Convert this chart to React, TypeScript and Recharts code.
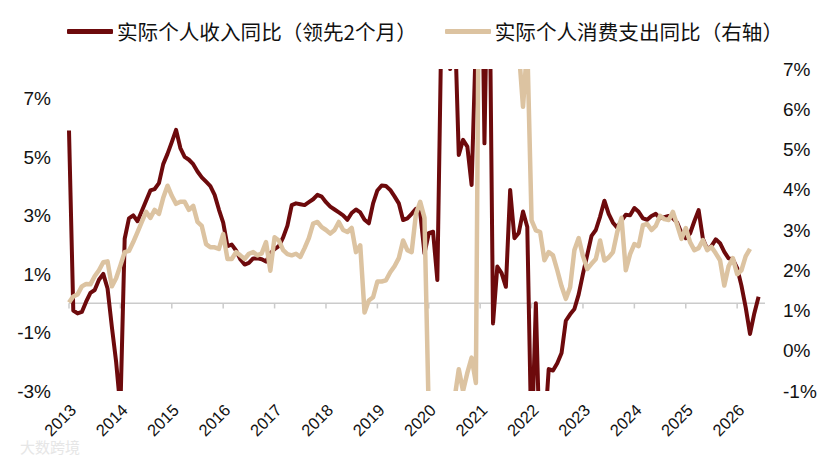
import React from 'react';
import { LineChart, Line, XAxis, YAxis, ReferenceLine } from 'recharts';

// monthly, Jan 2013 onwards
const yearLabels = ['2013', '2014', '2015', '2016', '2017', '2018', '2019', '2020', '2021', '2022', '2023', '2024', '2025', '2026'];

// 实际个人收入同比（领先2个月）, left axis
const income = [
  5.9, -0.25, -0.35, -0.3, 0.05, 0.35, 0.45, 0.8, 1.0, 0.5, -0.8, -2.0,
  -3.6, 2.2, 2.9, 3.0, 2.8, 3.15, 3.5, 3.85, 3.9, 4.1, 4.75, 5.1,
  5.5, 5.92, 5.3, 5.0, 4.9, 4.75, 4.5, 4.3, 4.15, 4.0, 3.7, 3.2,
  2.75, 1.95, 2.0, 1.8, 1.5, 1.32, 1.38, 1.53, 1.53, 1.5, 1.42, 1.7,
  1.85, 1.95, 2.25, 2.65, 3.35, 3.41, 3.38, 3.35, 3.45, 3.55, 3.7, 3.64,
  3.45, 3.3, 3.2, 3.1, 3.0, 2.85, 3.08, 3.2, 3.1, 2.85, 2.73, 3.41,
  3.85, 4.02, 4.0, 3.87, 3.65, 3.41, 2.84, 2.9, 3.05, 3.22, 3.1, 1.7,
  2.39, 2.44, 0.79, 10, 10, 8.0, 10, 5.06, 5.58, 5.35, 4.04, 9,
  16, 5.46, 14, -0.69, 1.25, 1.03, 0.56, 3.87, 2.22, 2.4, 3.13, 2.6,
  -5, 0.0, -5.5, -4.5, -2.25, -2.3, -2.05, -1.7, -0.6, -0.38, -0.2, 0.3,
  1.0, 1.65, 2.3, 2.5, 2.96, 3.5, 3.05, 2.75, 2.58, 2.82, 3.02, 3.0,
  3.25, 3.12, 2.9, 2.85, 2.98, 3.05, 2.9, 2.94, 2.98, 2.9, 2.75, 2.4,
  2.22, 2.38, 2.8, 3.18, 2.2, 1.85, 1.95, 2.18, 2.05, 1.75, 1.53, 1.5,
  1.2, 0.6, -0.15, -1.05, -0.35, 0.22,
];

// 实际个人消费支出同比（右轴）, right axis
const spending = [
  1.2, 1.35, 1.4, 1.6, 1.66, 1.65, 1.85, 2.0, 2.2, 2.22, 1.6, 1.8,
  2.12, 2.45, 2.48, 2.7, 2.95, 3.2, 3.45, 3.3, 3.5, 3.4, 3.8, 4.1,
  3.85, 3.65, 3.7, 3.7, 3.5, 3.6, 3.2, 3.1, 2.65, 2.57, 2.57, 2.53,
  2.9, 2.28, 2.28, 2.45, 2.37, 2.28, 2.41, 2.45, 2.37, 2.42, 2.7, 1.99,
  2.82, 2.74, 2.5, 2.4, 2.37, 2.41, 2.33, 2.55, 2.8, 3.16, 3.2, 3.07,
  3.0, 2.91, 3.0, 3.2, 3.0, 2.95, 3.05, 2.45, 2.62, 0.95, 1.25, 1.33,
  1.72, 1.72, 1.75, 1.95, 2.1, 2.3, 2.74, 2.5, 2.45, 3.4, 3.7, 3.3,
  -1.6, -16, -10, -7, -5, -3, -1.2, -0.46, -1.0, -0.55, -0.17, -0.8,
  14, 20, 14, 12, 11, 10, 9, 9, 8.5, 7.5, 6.06, 7.6,
  3.24, 2.99, 2.95, 2.25, 2.45, 2.37, 2.0, 1.6, 1.29, 1.58, 2.5, 2.8,
  2.35, 2.03, 2.16, 2.28, 2.74, 2.24, 2.32, 2.45, 2.95, 3.3, 2.0, 2.4,
  2.65, 2.6, 3.12, 3.15, 3.0, 3.1, 3.35, 3.27, 3.25, 3.45, 3.12, 2.78,
  3.05, 2.7, 2.5, 2.55, 2.75, 2.5, 2.58, 2.42, 2.25, 1.62, 2.1, 2.3,
  1.9, 2.0, 2.35, 2.53,
];

const leftTicks = [-3, -1, 1, 3, 5, 7];
const rightTicks = [-1, 0, 1, 2, 3, 4, 5, 6, 7];

const data = income.map((v, i) => ({
  m: i,
  income: v,
  spending: i < spending.length ? spending[i] : null,
}));

const yearTicks = yearLabels.map((_, i) => i * 12);

const DARK = '#6d0a0c';
const TAN = '#dcc3a1';
const TICK_FONT = '"Liberation Sans", Arial, sans-serif';

const LegendItem = ({ color, label }: { color: string; label: string }) => (
  <span style={{ display: 'flex', alignItems: 'center' }}>
    <span style={{ width: 46, height: 5, background: color, display: 'inline-block', marginRight: 4, borderRadius: 1 }} />
    <span>{label}</span>
  </span>
);

export default function App() {
  return (
    <div style={{ position: 'absolute', left: 0, top: 0, width: 828, height: 462, background: '#fff' }}>
      <div
        style={{
          position: 'absolute', top: 18, left: 67, display: 'flex', gap: 28,
          fontFamily: '"Noto Sans CJK SC", sans-serif', fontSize: 20.6, color: '#111', lineHeight: '26px',
        }}
      >
        <LegendItem color={DARK} label="实际个人收入同比（领先2个月）" />
        <LegendItem color={TAN} label="实际个人消费支出同比（右轴）" />
      </div>
      <div
        style={{
          position: 'absolute', left: 20, top: 438, fontSize: 15, lineHeight: '18px', color: '#e6e6e6',
          fontFamily: '"Noto Sans CJK SC", sans-serif',
        }}
      >
        大数跨境
      </div>
      <LineChart width={828} height={462} data={data} margin={{ top: 69, right: 0, bottom: 0, left: 0 }}>
        <XAxis
          dataKey="m"
          type="number"
          domain={[0, 162.5]}
          ticks={yearTicks}
          interval={0}
          height={71}
          axisLine={false}
          tickLine={false}
          tickSize={0}
          tickMargin={12}
          angle={-45}
          textAnchor="end"
          tickFormatter={(v: number) => yearLabels[Math.round(v / 12)]}
          tick={{ fill: '#111', fontSize: 16.5, fontFamily: TICK_FONT }}
        />
        <YAxis
          yAxisId="left"
          orientation="left"
          width={69}
          domain={[-3, 8]}
          ticks={leftTicks}
          interval={0}
          allowDataOverflow
          axisLine={false}
          tickLine={false}
          tickSize={0}
          tickMargin={18}
          tickFormatter={(v: number) => `${v}%`}
          tick={{ fill: '#111', fontSize: 19, fontFamily: TICK_FONT }}
        />
        <YAxis
          yAxisId="right"
          orientation="right"
          width={63}
          domain={[-1, 7]}
          ticks={rightTicks}
          interval={0}
          allowDataOverflow
          axisLine={false}
          tickLine={false}
          tickSize={0}
          tickMargin={18}
          tickFormatter={(v: number) => `${v}%`}
          tick={{ fill: '#111', fontSize: 19, fontFamily: TICK_FONT }}
        />
        <ReferenceLine yAxisId="left" y={0} stroke="#cbcbcb" strokeWidth={1.5} />
        {yearTicks.map((t) => (
          <ReferenceLine
            key={t}
            yAxisId="left"
            segment={[{ x: t, y: 0 }, { x: t, y: -0.18 }]}
            stroke="#cbcbcb"
            strokeWidth={1.5}
          />
        ))}
        <Line
          yAxisId="left"
          type="linear"
          dataKey="income"
          stroke={DARK}
          strokeWidth={4}
          dot={false}
          strokeLinejoin="round"
          isAnimationActive={false}
        />
        <Line
          yAxisId="right"
          type="linear"
          dataKey="spending"
          stroke={TAN}
          strokeWidth={4.5}
          dot={false}
          strokeLinejoin="round"
          connectNulls={false}
          isAnimationActive={false}
        />
      </LineChart>
    </div>
  );
}
